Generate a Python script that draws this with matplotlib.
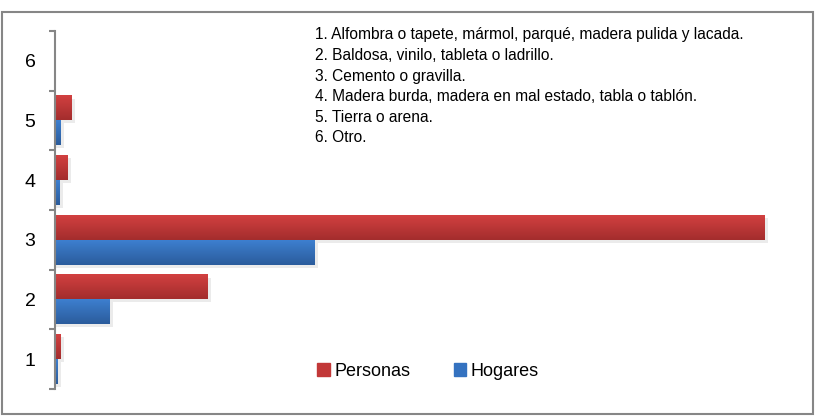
import matplotlib
matplotlib.use("Agg")
import matplotlib.pyplot as plt
import numpy as np
from matplotlib.patches import Rectangle
from matplotlib.colors import LinearSegmentedColormap

plt.rcParams['font.family'] = ['Liberation Sans', 'DejaVu Sans']

# data
categorias = [1, 2, 3, 4, 5, 6]
personas = [6, 153, 710, 13, 17, 0]
hogares = [3, 55, 260, 5, 6, 0]
notas = [
    "1. Alfombra o tapete, mármol, parqué, madera pulida y lacada.",
    "2. Baldosa, vinilo, tableta o ladrillo.",
    "3. Cemento o gravilla.",
    "4. Madera burda, madera en mal estado, tabla o tablón.",
    "5. Tierra o arena.",
    "6. Otro.",
]

fig = plt.figure(figsize=(8.16, 4.17), dpi=100)
ax = fig.add_axes([55 / 816, 28 / 417, 740 / 816, 358 / 417])

rojo = LinearSegmentedColormap.from_list("rojo", ["#a32d2d", "#d24040"])
azul = LinearSegmentedColormap.from_list("azul", ["#2b5c9c", "#3d7fcf"])
grad = np.linspace(0, 1, 64).reshape(-1, 1)

h = 0.417
for y, p, g in zip(categorias, personas, hogares):
    for val, y0, cmap in [(p, y, rojo), (g, y - h, azul)]:
        if val <= 0:
            continue
        # soft shadow
        ax.add_patch(Rectangle((0, y0 - 0.05), val + 3, h, color="#000000",
                               alpha=0.08, lw=0, zorder=1))
        ax.imshow(grad, extent=[0, val, y0, y0 + h], aspect="auto", cmap=cmap,
                  origin="lower", zorder=2, interpolation="bilinear")

ax.set_xlim(0, 740)
ax.set_ylim(0.5, 6.5)

for s in ["top", "right", "bottom"]:
    ax.spines[s].set_visible(False)
ax.spines["left"].set_color("#868686")
ax.spines["left"].set_linewidth(1.5)
ax.set_xticks([])
ax.set_yticks(np.arange(0.5, 7, 1))
ax.set_yticklabels([])
ax.set_yticks(categorias, minor=True)
ax.set_yticklabels([str(c) for c in categorias], minor=True, fontsize=14)
ax.tick_params(axis="y", which="major", length=4.5, width=1.5, color="#868686", direction="out")
ax.tick_params(axis="y", which="minor", length=0, pad=14)

for i, t in enumerate(notas):
    fig.text(315 / 816, 1 - (35 + i * 20.6) / 417, t, fontsize=11.2, va="center", ha="left")

handles = [Rectangle((0, 0), 1, 1, color="#c23838"), Rectangle((0, 0), 1, 1, color="#3472c0")]
fig.legend(handles, ["Personas", "Hogares"], loc="center", bbox_to_anchor=(428 / 816, 1 - 371 / 417),
           ncol=2, frameon=False, fontsize=13, handlelength=0.7, handleheight=0.7,
           handletextpad=0.25, columnspacing=2.4)

fig.patches.append(Rectangle((1.5 / 816, 3 / 417), 811 / 816, 402 / 417, transform=fig.transFigure,
                             fill=False, edgecolor="#868686", lw=1.5))

fig.savefig("out.png", dpi=100)
